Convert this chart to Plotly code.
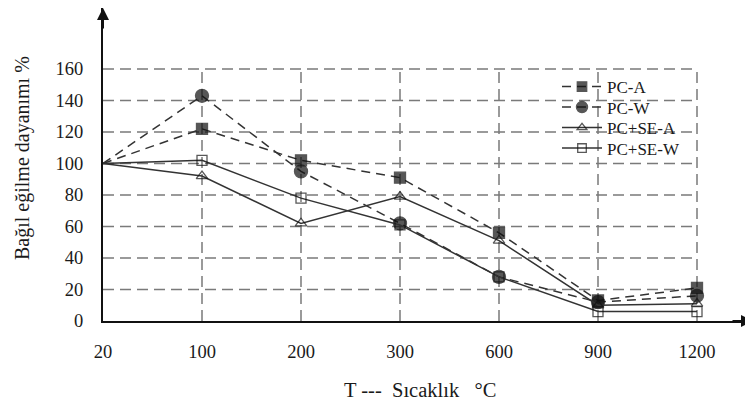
import plotly.graph_objects as go

categories = ["20", "100", "200", "300", "600", "900", "1200"]
pc_a = [100, 122, 102, 91, 56, 13, 21]
pc_w = [100, 143, 95, 62, 28, 12, 16]
pc_se_a = [100, 92, 62, 79, 51, 10, 11]
pc_se_w = [100, 102, 78, 61, 28, 6, 6]
y_ticks = [0, 20, 40, 60, 80, 100, 120, 140, 160]

xs = list(range(len(categories)))
FONT = "Liberation Serif, Times New Roman, serif"
LC = "#333333"
GC = "#7a7a7a"

# page body has an 8px margin: figure is placed at (8, 8)
W, H = 745, 401
L, R, T, B = 95, 0, 0, 88
PW, PH = W - L - R, H - T - B
X_MAX = PW / 99.0
Y_MAX = PH / 1.575


def px_x(sx):
    return (sx - 8 - L) / PW


def px_y(sy):
    return 1 - (sy - 8 - T) / PH


fig = go.Figure()

series = [
    ("PC-A", pc_a, "square", "dash", 11),
    ("PC-W", pc_w, "circle", "dash", 13),
    ("PC+SE-A", pc_se_a, "triangle-up-open", "solid", 10),
    ("PC+SE-W", pc_se_w, "square-open", "solid", 10),
]
legend_names = ["legend", "legend2", "legend3", "legend4"]
legend_rows = [87, 107.5, 128, 148.5]
for (name, vals, sym, dash, size), lg in zip(series, legend_names):
    fig.add_trace(go.Scatter(
        x=xs, y=vals, name=name, mode="lines+markers", legend=lg,
        line=dict(color=LC, width=1.5, dash="9px,6px" if dash == "dash" else "solid"),
        marker=dict(symbol=sym, size=[0] + [size] * (len(xs) - 1), color="#111111",
                    line=dict(color="#111111", width=1.3)),
        cliponaxis=False,
    ))

# grid lines
for yv in y_ticks[1:]:
    fig.add_shape(type="line", x0=0, x1=len(xs) - 1, y0=yv, y1=yv, layer="below",
                  line=dict(color=GC, width=1.5, dash="11px,6px"))
for xv in xs[1:]:
    fig.add_shape(type="line", x0=xv, x1=xv, y0=0, y1=y_ticks[-1], layer="below",
                  line=dict(color=GC, width=1.5, dash="11px,6px"))

legend_style = dict(xanchor="left", yanchor="top", bgcolor="rgba(0,0,0,0)",
                    font=dict(size=17), itemwidth=40)
layout_legends = {}
for lg, row in zip(legend_names, legend_rows):
    layout_legends[lg] = dict(x=px_x(557), y=px_y(row - 18), **legend_style)

fig.update_layout(
    width=W, height=H,
    margin=dict(l=L, r=R, t=T, b=B),
    paper_bgcolor="white", plot_bgcolor="white",
    font=dict(family=FONT, size=18.5, color="#1a1a1a"),
    showlegend=True,
    xaxis=dict(range=[0, X_MAX], tickvals=xs, ticktext=categories, showgrid=False,
               zeroline=False, showline=True, linecolor="#111111", linewidth=2,
               ticks="", ticklabelstandoff=13),
    yaxis=dict(range=[0, Y_MAX], tickvals=y_ticks, showgrid=False, zeroline=False,
               showline=True, linecolor="#111111", linewidth=2, ticks="",
               ticklabelstandoff=14),
    **layout_legends,
)

# axis arrows
fig.add_annotation(x=0, y=Y_MAX, xref="x", yref="y", ax=0, ay=22,
                   text="", showarrow=True, arrowhead=2, arrowsize=1.2, arrowwidth=2,
                   arrowcolor="#111111")
fig.add_annotation(x=X_MAX, y=0, xref="x", yref="y", ax=-22, ay=0,
                   text="", showarrow=True, arrowhead=2, arrowsize=1.2, arrowwidth=2,
                   arrowcolor="#111111")

# axis titles
fig.add_annotation(x=px_x(420), y=px_y(390), xref="paper", yref="paper",
                   text="T ---\u00a0\u00a0Sıcaklık\u00a0\u00a0\u00a0°C",
                   showarrow=False, xanchor="center", yanchor="middle", font=dict(size=20.5))
fig.add_annotation(x=px_x(22), y=px_y(158), xref="paper", yref="paper",
                   text="Bağıl eğilme dayanımı %", textangle=-90, showarrow=False,
                   xanchor="center", yanchor="middle", font=dict(size=20))

fig.write_html("out.html")
